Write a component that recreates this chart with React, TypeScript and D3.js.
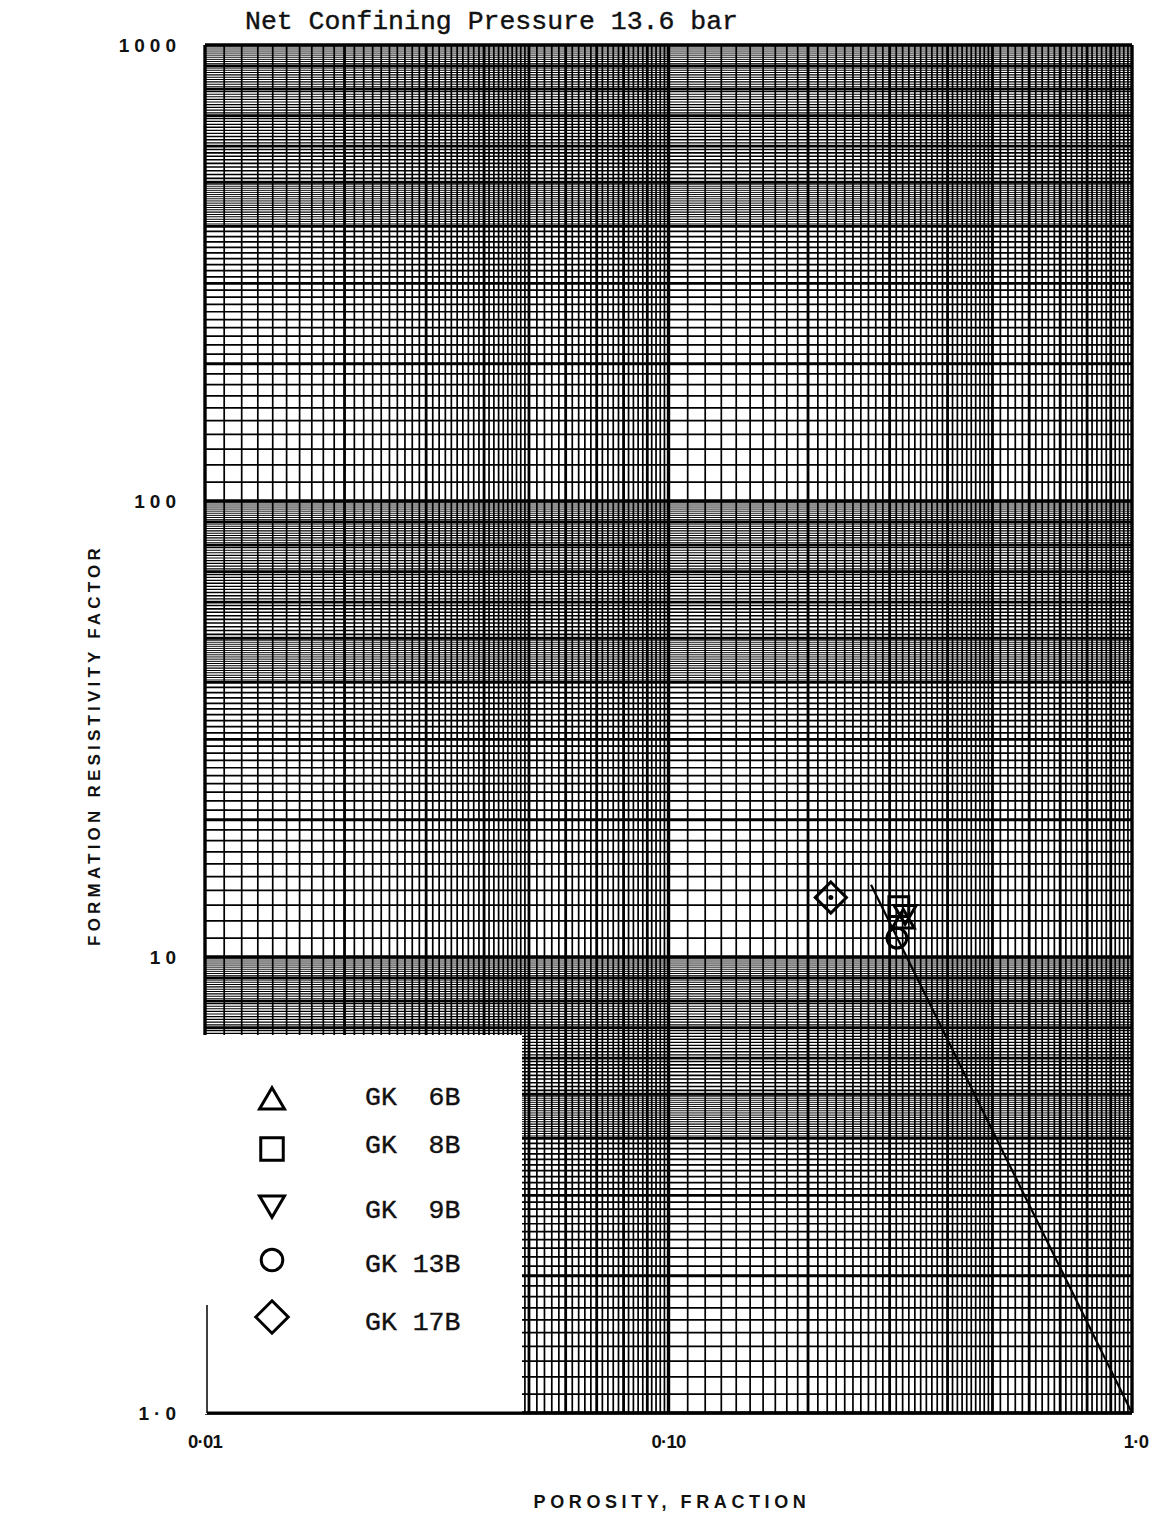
import React from "react";
import * as d3 from "d3";

// Samples: porosity (fraction) and formation resistivity factor
const sampleNames = ["GK  6B", "GK  8B", "GK  9B", "GK 13B", "GK 17B"];
const sampleShapes = ["triangle", "square", "triangleDown", "circle", "diamond"];
const samplePorosity = [0.321, 0.314, 0.324, 0.311, 0.224];
const sampleFactor = [12.1, 12.9, 12.4, 11.0, 13.5];

// Fitted line end points (porosity, factor)
const trendPorosity = [0.2735, 1.0];
const trendFactor = [14.4, 1.0];

// Axis ticks
const xTickValues = [0.01, 0.1, 1.0];
const xTickLabels = ["0·01", "0·10", "1·0"];
const yTickValues = [1, 10, 100, 1000];
const yTickLabels = ["1·0", "10", "100", "1000"];

// Log paper rulings inside each decade: [from, to, step]
const hRulings: [number, number, number][] = [
  [1, 2, 0.1],
  [2, 4, 0.1],
  [4, 5, 0.05],
  [5, 10, 0.1],
];
const vRulings: [number, number, number][] = [
  [1, 2, 0.1],
  [2, 5, 0.1],
  [5, 10, 0.2],
];

const W = 1155;
const H = 1514;
const left = 205;
const right = 1132;
const top = 45;
const bottom = 1413;

const x = d3.scaleLog().domain([0.01, 1]).range([left, right]);
const y = d3.scaleLog().domain([1, 1000]).range([bottom, top]);

type Rule = { v: number; w: number };

function paperRules(lo: number, hi: number, rulings: [number, number, number][], pxPerDecade: number): Rule[] {
  const out: Rule[] = [];
  for (let e = lo; e < hi; e++) {
    const dec = Math.pow(10, e);
    for (const [a, b, s] of rulings) {
      const n = Math.round((b - a) / s);
      for (let i = 0; i < n; i++) {
        const u = +(a + i * s).toFixed(3);
        const gap = pxPerDecade * Math.log10((u + s) / u);
        let w = Math.max(0.9, Math.min(1.7, 0.45 * gap));
        const isInt = Math.abs(u - Math.round(u)) < 1e-6;
        if (u === 1) w = 3.4;
        else if (isInt) w = 2.8;
        out.push({ v: u * dec, w });
      }
    }
  }
  out.push({ v: Math.pow(10, hi), w: 3.4 });
  return out;
}

const hRules = paperRules(0, 3, hRulings, (bottom - top) / 3);
const vRules = paperRules(-2, 0, vRulings, (right - left) / 2);

function markerPath(shape: string, cx: number, cy: number, s: number): string {
  const h = s / 2;
  switch (shape) {
    case "triangle":
      return `M${cx},${cy - h * 0.9}L${cx + h},${cy + h * 0.8}L${cx - h},${cy + h * 0.8}Z`;
    case "triangleDown":
      return `M${cx - h},${cy - h * 0.8}L${cx + h},${cy - h * 0.8}L${cx},${cy + h * 0.9}Z`;
    case "square":
      return `M${cx - h * 0.9},${cy - h * 0.9}h${s * 0.9}v${s * 0.9}h${-s * 0.9}Z`;
    case "diamond":
      return `M${cx},${cy - h * 1.3}L${cx + h * 1.3},${cy}L${cx},${cy + h * 1.3}L${cx - h * 1.3},${cy}Z`;
    default:
      return "";
  }
}

function Marker({ shape, cx, cy, s }: { shape: string; cx: number; cy: number; s: number }) {
  if (shape === "circle") {
    return <circle cx={cx} cy={cy} r={s * 0.45} fill="none" stroke="#000" strokeWidth={3} />;
  }
  return (
    <path d={markerPath(shape, cx, cy, s)} fill="none" stroke="#000" strokeWidth={3} strokeLinejoin="miter" />
  );
}

const legendX = 272;
const legendTextX = 365;
const legendRows = [1099, 1149, 1206, 1260, 1317];
const legendBaselines = [1105, 1153, 1218, 1272, 1330];

export default function App() {
  const line = d3
    .line<number>()
    .x((_, i) => x(trendPorosity[i]))
    .y((_, i) => y(trendFactor[i]));

  const sans = "'Liberation Sans', Arial, sans-serif";
  const mono = "'Liberation Mono', 'Courier New', monospace";

  return (
    <svg
      width={W}
      height={H}
      viewBox={`0 0 ${W} ${H}`}
      style={{ position: "absolute", left: 0, top: 0, background: "#fff" }}
    >
      <rect x={0} y={0} width={W} height={H} fill="#fff" />

      <text x={245} y={29} fontFamily={mono} fontSize={26.5} fill="#111" stroke="#111" strokeWidth={0.4}>
        Net Confining Pressure 13.6 bar
      </text>

      {/* log-log paper */}
      <g stroke="#000">
        {hRules.map((r, i) => (
          <line key={"h" + i} x1={left} x2={right} y1={y(r.v)} y2={y(r.v)} strokeWidth={r.w} />
        ))}
        {vRules.map((r, i) => (
          <line key={"v" + i} x1={x(r.v)} x2={x(r.v)} y1={top} y2={bottom} strokeWidth={r.w} />
        ))}
      </g>

      {/* legend panel */}
      <rect x={left - 4} y={1035} width={522 - left + 4} height={bottom - 1035 + 1} fill="#fff" />
      <line x1={207} x2={207} y1={1305} y2={bottom} stroke="#000" strokeWidth={1.5} />
      <line x1={207} x2={right} y1={bottom} y2={bottom} stroke="#000" strokeWidth={3} />

      {sampleNames.map((name, i) => (
        <g key={name}>
          <Marker shape={sampleShapes[i]} cx={legendX} cy={legendRows[i]} s={sampleShapes[i] === "circle" ? 24 : 25} />
          <text
            x={legendTextX}
            y={legendBaselines[i]}
            fontFamily={mono}
            fontSize={26.5}
            fill="#111"
            stroke="#111"
            strokeWidth={0.4}
            style={{ whiteSpace: "pre" }}
          >
            {name}
          </text>
        </g>
      ))}

      {/* fitted line and samples */}
      <path d={line(trendPorosity) || ""} fill="none" stroke="#000" strokeWidth={2.2} />
      {sampleNames.map((name, i) => (
        <Marker
          key={"m" + name}
          shape={sampleShapes[i]}
          cx={x(samplePorosity[i])}
          cy={y(sampleFactor[i])}
          s={sampleShapes[i] === "diamond" ? 24 : 22}
        />
      ))}
      <circle cx={x(samplePorosity[4])} cy={y(sampleFactor[4])} r={2.5} fill="#000" />

      {/* axis labels */}
      {yTickValues.map((v, i) => (
        <text
          key={"yt" + v}
          x={181}
          y={y(v) + 7}
          textAnchor="end"
          fontFamily={sans}
          fontWeight="bold"
          fontSize={19}
          letterSpacing={5}
          fill="#111"
        >
          {yTickLabels[i]}
        </text>
      ))}
      {xTickValues.map((v, i) => (
        <text
          key={"xt" + v}
          x={x(v) + (i === 2 ? 4 : 0)}
          y={1448}
          textAnchor="middle"
          fontFamily={sans}
          fontWeight="bold"
          fontSize={18.5}
          letterSpacing={-0.8}
          fill="#111"
        >
          {xTickLabels[i]}
        </text>
      ))}

      <text
        transform={`translate(100,745) rotate(-90)`}
        textAnchor="middle"
        fontFamily={sans}
        fontWeight="bold"
        fontSize={17}
        letterSpacing={4.2}
        fill="#111"
      >
        FORMATION RESISTIVITY FACTOR
      </text>
      <text
        x={672}
        y={1508}
        textAnchor="middle"
        fontFamily={sans}
        fontWeight="bold"
        fontSize={18}
        letterSpacing={4.6}
        fill="#111"
      >
        POROSITY, FRACTION
      </text>
    </svg>
  );
}
